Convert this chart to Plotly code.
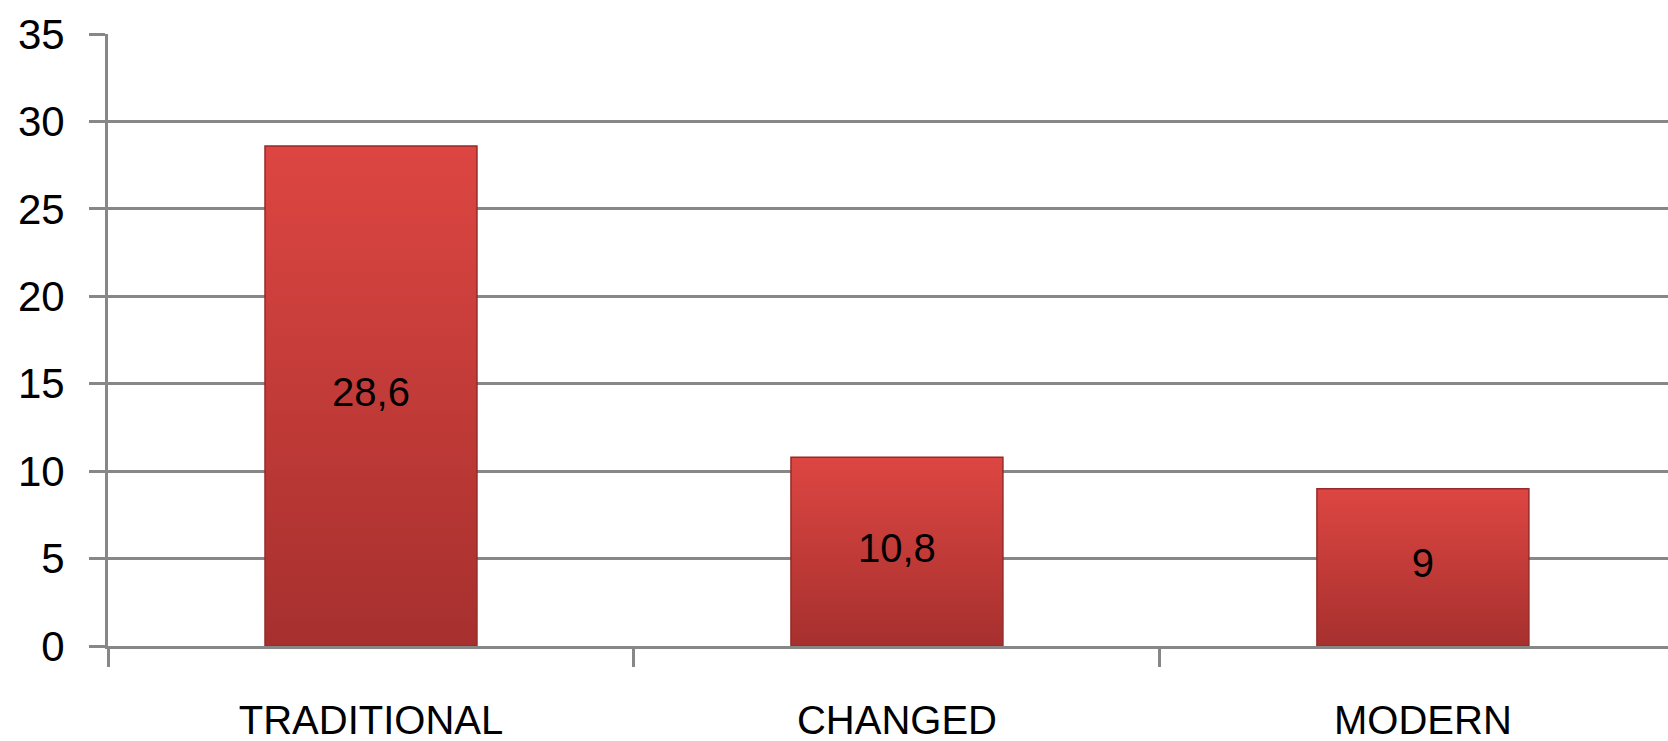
import plotly.graph_objects as go

# Chart data
categories = ["TRADITIONAL", "CHANGED", "MODERN"]
values = [28.6, 10.8, 9]
y_ticks = [0, 5, 10, 15, 20, 25, 30, 35]

# Styling
BAR_WIDTH = 0.403
GREY = "#878787"
BAR_TOP = "#DD4642"
BAR_BOTTOM = "#A6302E"
FONT = "Liberation Sans, Arial, sans-serif"


def fmt(v):
    return f"{v:g}".replace(".", ",")


fig = go.Figure()

# Each bar is a filled rectangle spanning 0..value with a vertical gradient
for i, v in enumerate(values):
    x0, x1 = i - BAR_WIDTH / 2, i + BAR_WIDTH / 2
    fig.add_trace(go.Scatter(
        x=[x0, x1, x1, x0, x0],
        y=[0, 0, v, v, 0],
        mode="lines",
        fill="toself",
        fillgradient=dict(
            type="vertical",
            start=0,
            stop=v,
            colorscale=[[0, BAR_BOTTOM], [1, BAR_TOP]],
        ),
        line=dict(color="#962A28", width=1.5),
        name=categories[i],
        hoverinfo="skip",
        showlegend=False,
    ))

# Value labels centred inside the bars
fig.add_trace(go.Scatter(
    x=list(range(len(values))),
    y=[v / 2 for v in values],
    mode="text",
    text=[fmt(v) for v in values],
    textposition="middle center",
    textfont=dict(family=FONT, size=40, color="#000000"),
    hoverinfo="skip",
    showlegend=False,
))

fig.update_layout(
    width=1668,
    height=741,
    margin=dict(l=108, r=0, t=34, b=95, autoexpand=False),
    paper_bgcolor="white",
    plot_bgcolor="white",
    showlegend=False,
    xaxis=dict(
        range=[-0.5, 2.466],
        automargin=False,
        tickmode="array",
        tickvals=list(range(len(categories))),
        ticktext=categories,
        ticks="",
        ticklabelstandoff=37,
        tickfont=dict(family=FONT, size=40, color="#000000"),
        showgrid=False,
        zeroline=False,
        showline=True,
        linecolor=GREY,
        linewidth=3,
        minor=dict(
            tickmode="array",
            tickvals=[-0.5, 0.5, 1.5, 2.5],
            ticks="outside",
            ticklen=18,
            tickwidth=3,
            tickcolor=GREY,
            showgrid=False,
        ),
        fixedrange=True,
    ),
    yaxis=dict(
        range=[0, 35],
        automargin=False,
        tickmode="array",
        tickvals=y_ticks,
        ticks="outside",
        ticklen=16,
        tickwidth=3,
        tickcolor=GREY,
        ticklabelstandoff=16,
        tickfont=dict(family=FONT, size=42, color="#000000"),
        showgrid=True,
        gridcolor=GREY,
        gridwidth=3,
        zeroline=False,
        showline=True,
        linecolor=GREY,
        linewidth=3,
        fixedrange=True,
    ),
)

fig.write_html("out.html")
